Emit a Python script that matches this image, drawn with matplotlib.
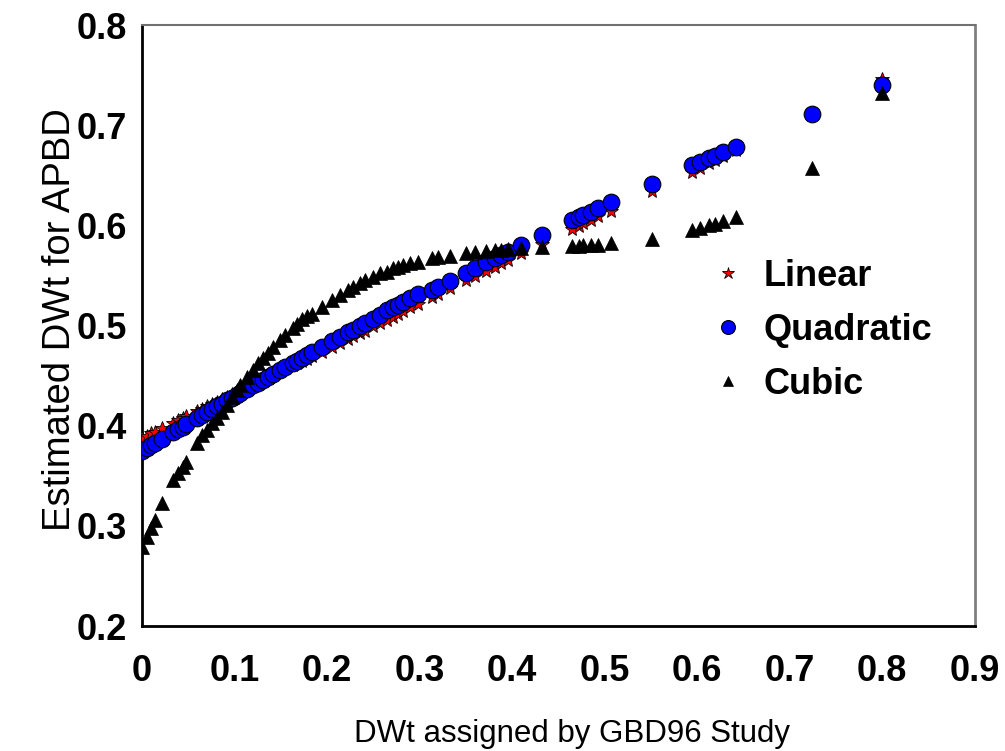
import matplotlib
matplotlib.use("Agg")
import matplotlib.pyplot as plt

# DWt assigned by GBD96 Study (shared x values)
gbd_dwt = [0.000, 0.005, 0.010, 0.014, 0.022, 0.034, 0.039, 0.044, 0.048, 0.059,
           0.065, 0.070, 0.076, 0.081, 0.086, 0.092, 0.097, 0.103, 0.106, 0.113,
           0.120, 0.125, 0.131, 0.136, 0.142, 0.149, 0.155, 0.163, 0.167, 0.173,
           0.178, 0.184, 0.194, 0.205, 0.214, 0.223, 0.228, 0.236, 0.241, 0.250,
           0.257, 0.265, 0.271, 0.277, 0.282, 0.290, 0.298, 0.313, 0.320, 0.333,
           0.350, 0.360, 0.372, 0.381, 0.388, 0.395, 0.410, 0.432, 0.465, 0.472,
           0.477, 0.485, 0.493, 0.507, 0.551, 0.594, 0.603, 0.613, 0.619, 0.628,
           0.642, 0.724, 0.800]

linear = [0.388, 0.390, 0.393, 0.394, 0.398, 0.403, 0.406, 0.408, 0.410, 0.415,
          0.417, 0.420, 0.422, 0.424, 0.427, 0.429, 0.432, 0.434, 0.436, 0.439,
          0.442, 0.444, 0.447, 0.449, 0.452, 0.455, 0.458, 0.461, 0.463, 0.465,
          0.467, 0.470, 0.474, 0.479, 0.483, 0.487, 0.490, 0.493, 0.495, 0.500,
          0.503, 0.506, 0.509, 0.512, 0.514, 0.518, 0.521, 0.528, 0.531, 0.537,
          0.545, 0.549, 0.554, 0.558, 0.562, 0.565, 0.572, 0.581, 0.596, 0.599,
          0.602, 0.605, 0.609, 0.614, 0.634, 0.653, 0.657, 0.662, 0.665, 0.669,
          0.675, 0.712, 0.746]

quadratic = [0.375, 0.378, 0.381, 0.383, 0.387, 0.394, 0.397, 0.399, 0.402, 0.408,
             0.411, 0.414, 0.417, 0.420, 0.422, 0.426, 0.428, 0.431, 0.433, 0.437,
             0.441, 0.443, 0.446, 0.449, 0.452, 0.456, 0.459, 0.463, 0.465, 0.468,
             0.471, 0.474, 0.479, 0.485, 0.489, 0.494, 0.496, 0.500, 0.503, 0.507,
             0.511, 0.515, 0.518, 0.520, 0.523, 0.527, 0.531, 0.535, 0.538, 0.544,
             0.552, 0.557, 0.563, 0.567, 0.570, 0.573, 0.580, 0.590, 0.605, 0.608,
             0.610, 0.613, 0.617, 0.623, 0.641, 0.660, 0.663, 0.667, 0.669, 0.673,
             0.678, 0.711, 0.740]

cubic = [0.279, 0.289, 0.298, 0.306, 0.323, 0.346, 0.353, 0.359, 0.364, 0.383,
         0.391, 0.396, 0.403, 0.408, 0.414, 0.421, 0.429, 0.436, 0.441, 0.449,
         0.456, 0.463, 0.468, 0.473, 0.479, 0.486, 0.491, 0.498, 0.502, 0.507,
         0.510, 0.512, 0.518, 0.525, 0.530, 0.535, 0.538, 0.542, 0.545, 0.548,
         0.552, 0.553, 0.557, 0.558, 0.560, 0.562, 0.563, 0.567, 0.568, 0.569,
         0.572, 0.573, 0.574, 0.575, 0.575, 0.576, 0.577, 0.578, 0.579, 0.579,
         0.580, 0.580, 0.580, 0.582, 0.586, 0.595, 0.597, 0.600, 0.601, 0.604,
         0.608, 0.657, 0.732]

series_names = ["Linear", "Quadratic", "Cubic"]
x_ticks = [0, 0.1, 0.2, 0.3, 0.4, 0.5, 0.6, 0.7, 0.8, 0.9]
x_tick_labels = ["0", "0.1", "0.2", "0.3", "0.4", "0.5", "0.6", "0.7", "0.8", "0.9"]
y_ticks = [0.2, 0.3, 0.4, 0.5, 0.6, 0.7, 0.8]
y_tick_labels = ["0.2", "0.3", "0.4", "0.5", "0.6", "0.7", "0.8"]

plt.rcParams['font.family'] = ['Liberation Sans', 'DejaVu Sans']

fig = plt.figure(figsize=(10.05, 7.51), dpi=100)
ax = fig.add_axes([0.1413, 0.1664, 0.8287, 0.8003])

ax.plot(gbd_dwt, linear, linestyle='none', marker='*', markersize=10.5,
        markerfacecolor='#ff0000', markeredgecolor='black', markeredgewidth=0.6,
        label=series_names[0], zorder=3)
ax.plot(gbd_dwt, quadratic, linestyle='none', marker='o', markersize=12,
        markerfacecolor='#0000ff', markeredgecolor='black', markeredgewidth=0.8,
        label=series_names[1], zorder=4)
ax.plot(gbd_dwt, cubic, linestyle='none', marker='^', markersize=10,
        markerfacecolor='black', markeredgecolor='black', markeredgewidth=0.5,
        label=series_names[2], zorder=5)

ax.set_xlim(0, 0.9)
ax.set_ylim(0.2, 0.8)
ax.set_xticks(x_ticks)
ax.set_xticklabels(x_tick_labels)
ax.set_yticks(y_ticks)
ax.set_yticklabels(y_tick_labels)
ax.tick_params(axis='both', length=0, labelsize=26)
ax.tick_params(axis='x', pad=20)
ax.tick_params(axis='y', pad=11)
for lbl in ax.get_xticklabels() + ax.get_yticklabels():
    lbl.set_fontweight('bold')

ax.set_xlabel("DWt assigned by GBD96 Study", fontsize=22.5, labelpad=22)
ax.xaxis.label.set_x(0.516)
ax.set_ylabel("Estimated DWt for APBD", fontsize=27.5, labelpad=-1)
ax.yaxis.label.set_y(0.51)

ax.spines['left'].set_color('black')
ax.spines['bottom'].set_color('black')
ax.spines['left'].set_linewidth(2)
ax.spines['bottom'].set_linewidth(2)
ax.spines['top'].set_color('#707070')
ax.spines['right'].set_color('#808080')
ax.spines['top'].set_linewidth(1.5)
ax.spines['right'].set_linewidth(2)

leg = ax.legend(loc='center left', bbox_to_anchor=(0.664, 0.492), frameon=False,
                prop={'weight': 'bold', 'size': 26}, handlelength=0.8,
                handletextpad=0.6, labelspacing=0.52, borderpad=0, numpoints=1)
sizes = [9, 10, 7.5]
for h, s in zip(leg.legend_handles, sizes):
    h.set_markersize(s)

fig.savefig("out.png", dpi=100, facecolor='white')
